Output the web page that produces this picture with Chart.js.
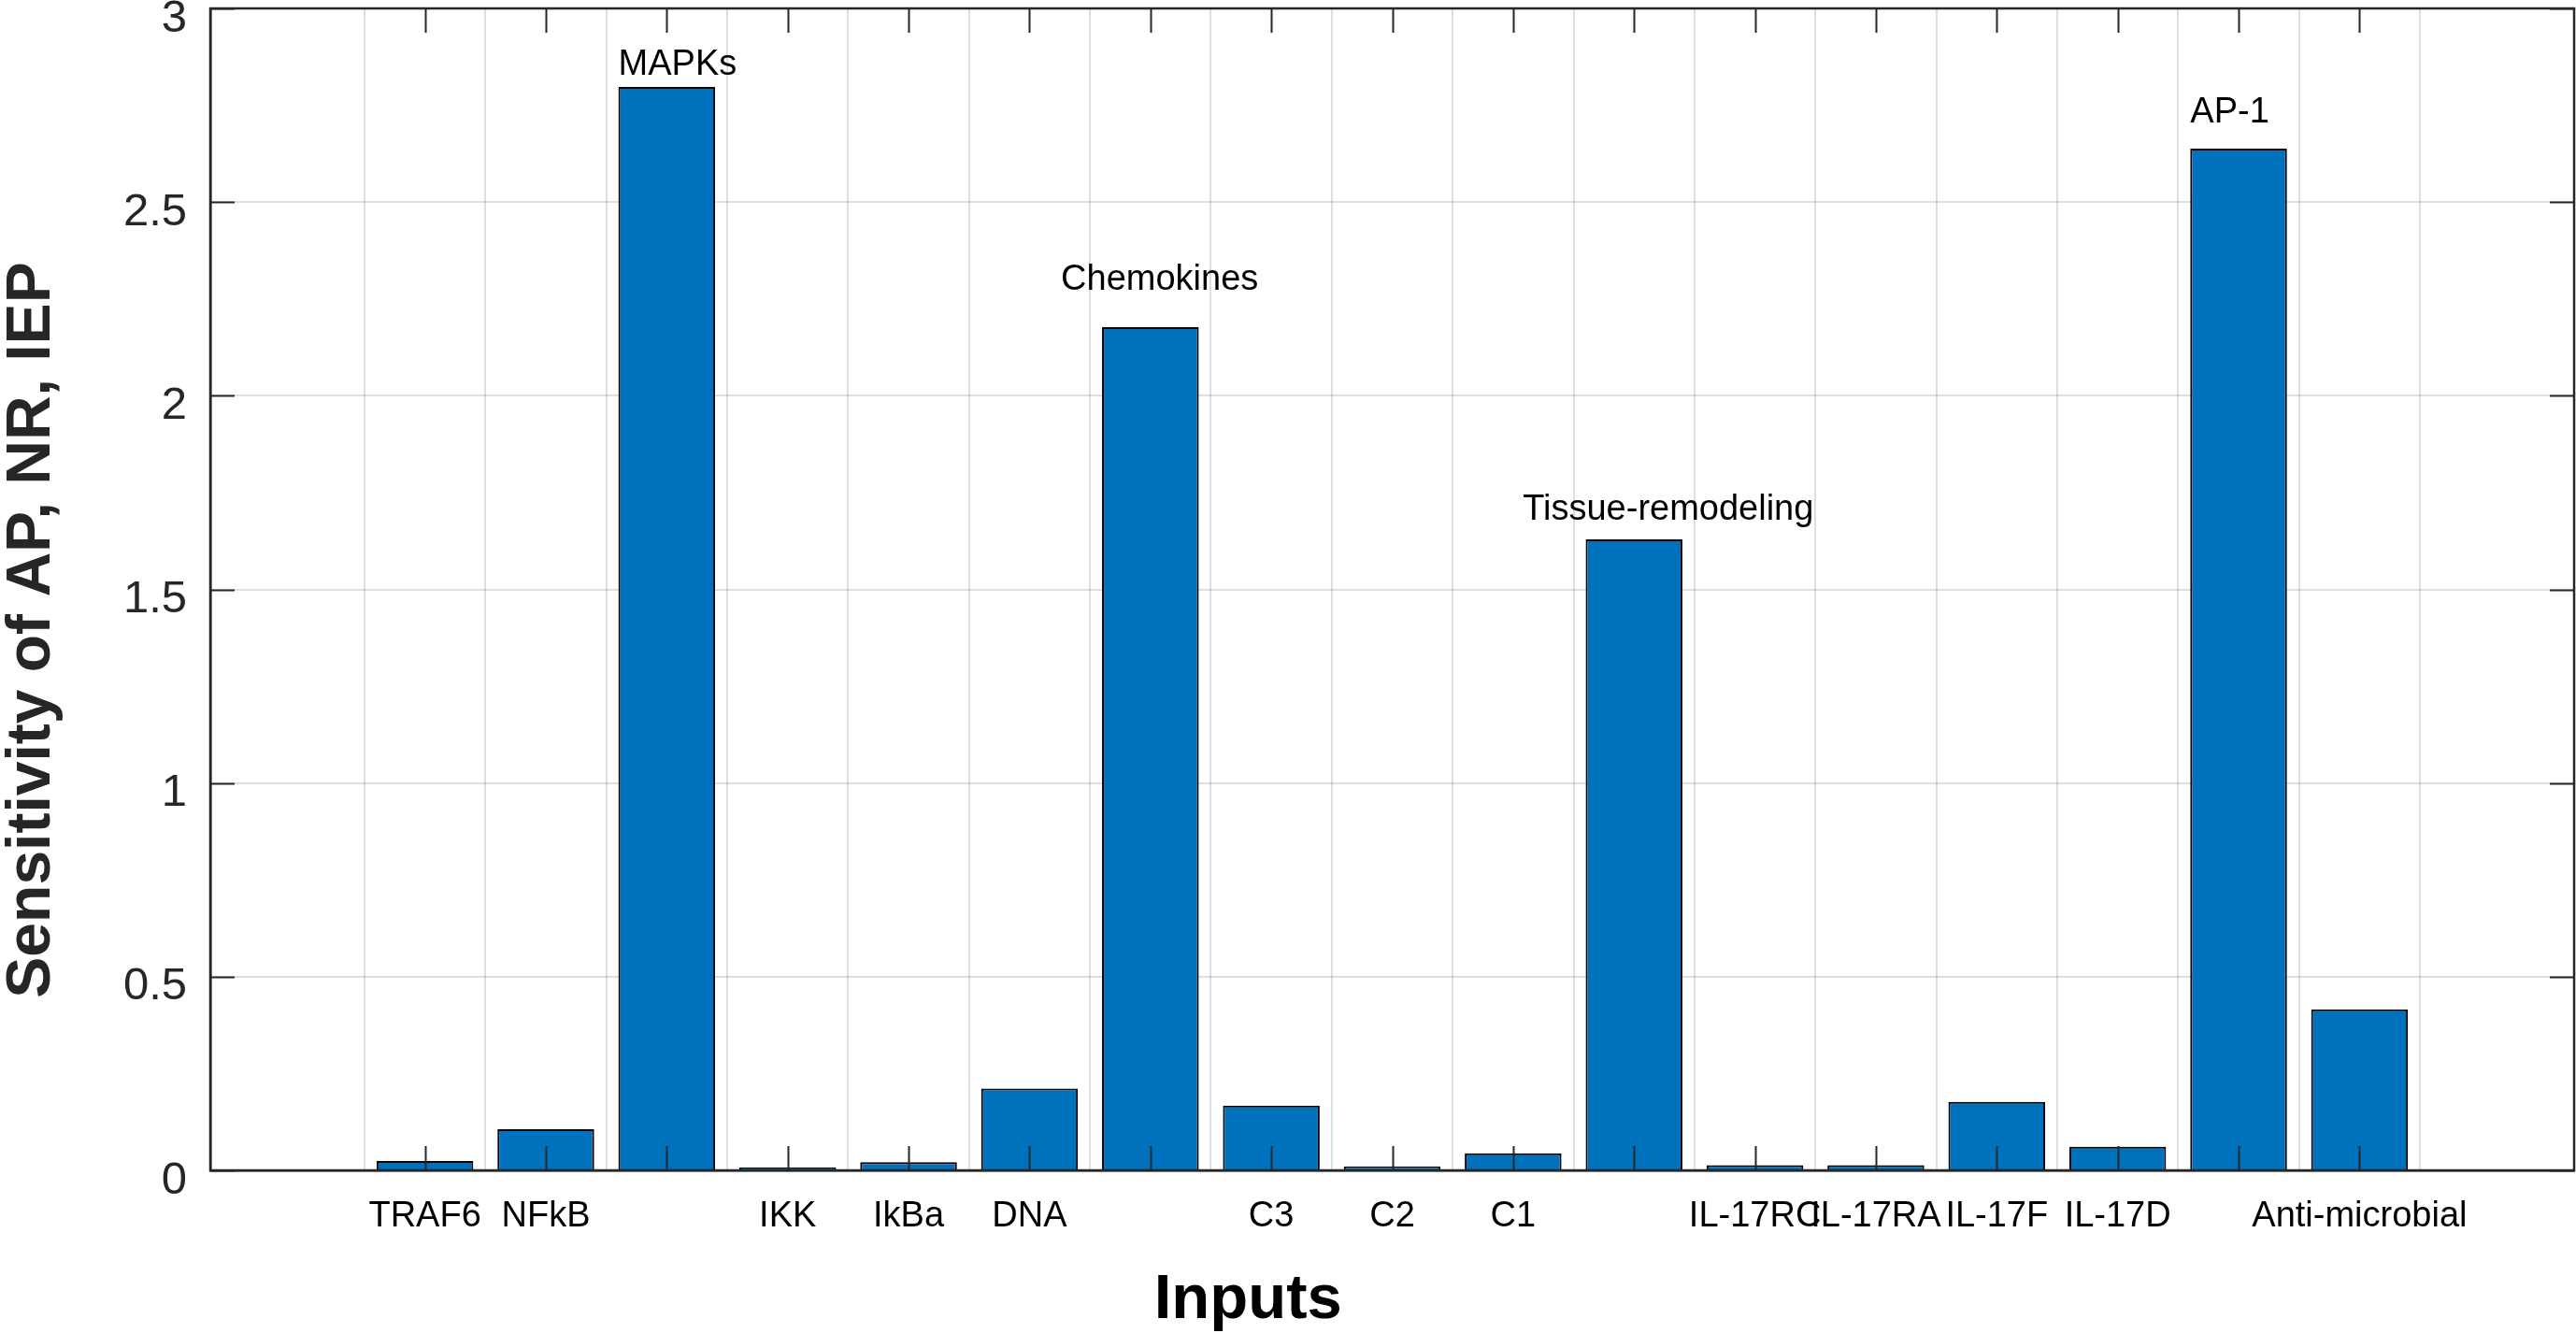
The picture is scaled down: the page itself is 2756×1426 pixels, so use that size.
<!DOCTYPE html>
<html>
<head>
<meta charset="utf-8">
<script src="https://cdn.jsdelivr.net/npm/chart.js@4.4.1/dist/chart.umd.min.js"></script>
<style>
  html, body { margin: 0; padding: 0; background: #fff; }
  #wrap { width: 2756px; height: 1426px; position: relative; }
</style>
</head>
<body>
<div id="wrap"><canvas id="sensChart"></canvas></div>
<script>
// DATA
const inputs = ["TRAF6", "NFkB", "MAPKs", "IKK", "IkBa", "DNA", "Chemokines", "C3", "C2", "C1",
                "Tissue-remodeling", "IL-17RC", "IL-17RA", "IL-17F", "IL-17D", "AP-1", "Anti-microbial"];
// axis tick text (the four big ones are named above their bars instead)
const tickLabels = ["TRAF6", "NFkB", "", "IKK", "IkBa", "DNA", "", "C3", "C2", "C1",
                    "", "IL-17RC", "IL-17RA", "IL-17F", "IL-17D", "", "Anti-microbial"];
const sensitivity = [0.024, 0.106, 2.797, 0.007, 0.021, 0.211, 2.177, 0.167, 0.010, 0.044,
                     1.629, 0.013, 0.013, 0.177, 0.061, 2.638, 0.416];
const yTicks = [0, 0.5, 1, 1.5, 2, 2.5, 3];

// text placed above some bars: [category name, left x in data units, y in data units]
const annotations = [
  ["MAPKs", 2.60, 2.853],
  ["Chemokines", 6.26, 2.298],
  ["Tissue-remodeling", 10.08, 1.706],
  ["AP-1", 15.60, 2.732]
];

const FONT = "'Liberation Sans', Arial, Helvetica, sans-serif";
const AXIS = "#262626";
const TICK_LEN = 26;

const positions = inputs.map((_, i) => i + 1);
const barData = positions.map((x, i) => ({ x: x, y: sensitivity[i] }));

// box, inward ticks, annotations and axis titles (MATLAB style)
const matlabAxes = {
  id: "matlabAxes",
  afterDatasetsDraw(chart) {
    const ctx = chart.ctx;
    const a = chart.chartArea;
    const xs = chart.scales.x, ys = chart.scales.y;
    ctx.save();
    ctx.strokeStyle = AXIS;
    ctx.lineWidth = 2;
    ctx.beginPath();
    positions.forEach(v => {
      const px = Math.round(xs.getPixelForValue(v)) + 0.5;
      ctx.moveTo(px, a.bottom); ctx.lineTo(px, a.bottom - TICK_LEN);
      ctx.moveTo(px, a.top); ctx.lineTo(px, a.top + TICK_LEN);
    });
    yTicks.forEach(v => {
      const py = Math.round(ys.getPixelForValue(v)) + 0.5;
      ctx.moveTo(a.left, py); ctx.lineTo(a.left + TICK_LEN, py);
      ctx.moveTo(a.right, py); ctx.lineTo(a.right - TICK_LEN, py);
    });
    ctx.stroke();
    ctx.lineWidth = 2.5;
    ctx.strokeRect(a.left, a.top, a.right - a.left, a.bottom - a.top);

    // labels above bars
    ctx.fillStyle = "#000";
    ctx.font = "38px " + FONT;
    ctx.textAlign = "left";
    ctx.textBaseline = "middle";
    annotations.forEach(([txt, x, y]) => {
      ctx.fillText(txt, xs.getPixelForValue(x), ys.getPixelForValue(y));
    });

    // axis titles
    ctx.fillStyle = "#000";
    ctx.font = "bold 67px " + FONT;
    ctx.textAlign = "center";
    ctx.textBaseline = "alphabetic";
    ctx.fillText("Inputs", a.left + (a.right - a.left) * 0.439, 1410);

    ctx.fillStyle = AXIS;
    ctx.font = "bold 66px " + FONT;
    ctx.translate(53, 674);
    ctx.rotate(-Math.PI / 2);
    ctx.fillText("Sensitivity of AP, NR, IEP", 0, 0);
    ctx.restore();
  }
};

const ctx = document.querySelector("#sensChart");

new Chart(ctx, {
  type: "bar",
  data: {
    datasets: [{
      label: "Sensitivity",
      data: barData,
      backgroundColor: "#0072BD",
      borderColor: "#000000",
      borderWidth: 2,
      borderSkipped: "start",
      barPercentage: 0.8,
      categoryPercentage: 1.0
    }]
  },
  options: {
    responsive: true,
    maintainAspectRatio: false,
    animation: false,
    layout: { padding: { top: 9, right: 2, left: 0, bottom: 0 } },
    plugins: {
      legend: { display: false },
      tooltip: { enabled: false }
    },
    scales: {
      x: {
        type: "linear",
        min: -0.2,
        max: 18.2,
        afterBuildTicks: (scale) => { scale.ticks = positions.map(v => ({ value: v })); },
        afterFit: (scale) => {
          scale.height = 174;
          scale.paddingLeft = 0; scale.paddingRight = 0;
        },
        grid: { color: "rgba(38,38,38,0.15)", lineWidth: 2, drawTicks: false },
        border: { display: true, color: AXIS, width: 2.5 },
        ticks: {
          autoSkip: false,
          maxRotation: 0,
          minRotation: 0,
          padding: 27,
          color: "#000",
          font: { family: FONT, size: 38 },
          callback: (value) => tickLabels[value - 1] ?? ""
        }
      },
      y: {
        min: 0,
        max: 3,
        afterBuildTicks: (scale) => { scale.ticks = yTicks.map(v => ({ value: v })); },
        afterFit: (scale) => {
          scale.width = 225;
          scale.paddingTop = 0; scale.paddingBottom = 0;
        },
        grid: { color: "rgba(38,38,38,0.15)", lineWidth: 2, drawTicks: false },
        border: { display: true, color: AXIS, width: 2.5 },
        ticks: {
          padding: 25,
          labelOffset: 11,
          color: "#262626",
          font: { family: FONT, size: 49 },
          callback: (value) => String(value)
        }
      }
    }
  },
  plugins: [matlabAxes]
});
</script>
</body>
</html>
